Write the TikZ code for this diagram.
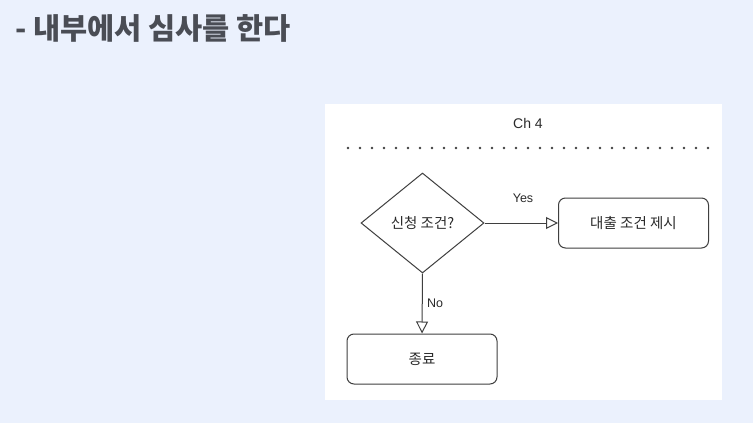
\documentclass[tikz,border=0pt]{standalone}
\usepackage{fontspec}
\setmainfont{Liberation Sans}
\newfontfamily\kr{Noto Sans CJK KR}
\usetikzlibrary{shapes.geometric,arrows.meta}
\definecolor{bgblue}{HTML}{EBF1FD}
\definecolor{titlegray}{HTML}{4A4D55}
\definecolor{linegray}{HTML}{3F3F3F}
\definecolor{txtgray}{HTML}{2A2A2A}
\begin{document}
\begin{tikzpicture}[x={(1pt,0)},y={(0,-1pt)},
  procbox/.style={draw=linegray,line width=1pt,rounded corners=7pt,fill=white,minimum width=150pt,minimum height=50pt,inner sep=0pt,font=\kr\fontsize{14.5}{16}\selectfont,text=txtgray},
  decision/.style={draw=linegray,line width=1pt,diamond,aspect=1.23,fill=white,minimum width=123pt,minimum height=100pt,inner sep=0pt,font=\kr\fontsize{14.5}{16}\selectfont,text=txtgray},
  flow/.style={draw=linegray,line width=1pt,-{Triangle[open,length=12pt,width=12pt,fill=white]}},
  lbl/.style={font=\fontsize{12.5}{14}\selectfont,text=txtgray,inner sep=0pt}]
\fill[bgblue] (0,0) rectangle (753,423);
\useasboundingbox (0,0) rectangle (753,423);
\fill[white] (325,104) rectangle (722,400);
\node[anchor=west,inner sep=0pt,text=titlegray,font=\kr\bfseries\fontsize{29.5}{34}\selectfont] (title) at (15,28) {- 내부에서 심사를 한다};
\node[lbl,font=\fontsize{14}{16}\selectfont] (ch) at (528,123) {Ch 4};
\coordinate (dl) at (348,148);
\coordinate (dr) at (708,148);
\draw[linegray,line width=2.6pt,line cap=round,dash pattern=on 0pt off 12pt] (dl) -- (dr);
\node[decision] (dec) at (422.5,223) {신청 조건?};
\node[procbox] (offer) at (633.5,223) {대출 조건 제시};
\node[procbox] (end) at (422,359) {종료};
\draw[flow] (dec.east) -- (offer.west);
\draw[flow] (dec.south) -- (end.north);
\node[lbl] (yes) at (523,198) {Yes};
\node[lbl] (no) at (435,303) {No};
\end{tikzpicture}
\end{document}
